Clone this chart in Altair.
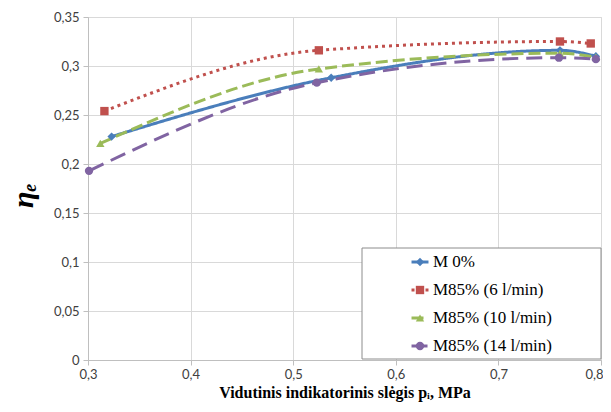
import altair as alt
import pandas as pd

series = ["M 0%", "M85% (6 l/min)", "M85% (10 l/min)", "M85% (14 l/min)"]

p_m0 = [0.323, 0.537, 0.760, 0.795]
eta_m0 = [0.228, 0.288, 0.316, 0.310]

p_m6 = [0.316, 0.525, 0.760, 0.790]
eta_m6 = [0.254, 0.316, 0.325, 0.323]

p_m10 = [0.312, 0.525, 0.760, 0.795]
eta_m10 = [0.221, 0.297, 0.313, 0.309]

p_m14 = [0.301, 0.523, 0.759, 0.795]
eta_m14 = [0.193, 0.283, 0.3085, 0.307]

x_ticks = [0.3, 0.4, 0.5, 0.6, 0.7, 0.8]
y_ticks = [0, 0.05, 0.1, 0.15, 0.2, 0.25, 0.3, 0.35]

colors = ["#4A7EBB", "#C0504D", "#9BBB59", "#8064A2"]
dashes = [[1, 0], [3, 4], [12, 5], [16, 8]]
shapes = ["diamond", "square", "triangle-up", "circle"]

rows = []
for si, (name, xs, ys) in enumerate(zip(series,
                                         [p_m0, p_m6, p_m10, p_m14],
                                         [eta_m0, eta_m6, eta_m10, eta_m14])):
    for x, y in zip(xs, ys):
        rows.append({"series": name, "sidx": si, "p": x, "eta": y})
df = pd.DataFrame(rows)

serif = "Liberation Serif"
sans = "Lato"

x_enc = alt.X(
    "p:Q",
    scale=alt.Scale(domain=[0.3, 0.8], nice=False, zero=False),
    axis=alt.Axis(
        values=x_ticks,
        title="Vidutinis indikatorinis slėgis pᵢ, MPa",
        titleFont=serif, titleFontSize=16, titleFontWeight="bold", titleColor="black",
        titlePadding=3,
        labelExpr="replace(format(datum.value, '.1f'), '.', ',')",
        labelFont=sans, labelFontSize=13, labelColor="#404040", labelPadding=3,
        labelFlush=False, labelOverlap=False,
        labelAlign={"expr": "datum.value > 0.79 ? 'right' : 'center'"},
        labelOffset={"expr": "datum.value > 0.79 ? 2 : 0"},
        tickSize=5, tickColor="#bfbfbf", domainColor="#bfbfbf",
        gridColor="#d9d9d9",
    ),
)
y_enc = alt.Y(
    "eta:Q",
    scale=alt.Scale(domain=[0, 0.35], nice=False),
    axis=alt.Axis(
        values=y_ticks,
        title="ηₑ",
        titleFont=serif, titleFontSize=30, titleFontWeight="bold", titleFontStyle="italic",
        titleColor="black", titleX=-65, titleY=178, titleAlign="center", titleBaseline="middle",
        labelExpr="replace(format(datum.value, '.2~f'), '.', ',')",
        labelFont=sans, labelFontSize=13, labelColor="#404040", labelPadding=4,
        labelFlush=False, labelOverlap=False,
        tickSize=5, tickColor="#bfbfbf", domainColor="#bfbfbf",
        gridColor="#d9d9d9",
    ),
)

common_leg = dict(
    title=None, orient="none", legendX=274, padding=0,
    labelFont=serif, labelFontSize=17, rowPadding=10, labelLimit=400,
)

legA = alt.Legend(
    **common_leg, legendY=235,
    symbolType="stroke", symbolSize=288, symbolStrokeWidth=3,
    symbolOffset=48, labelOffset=3, labelColor="black",
)
legB = alt.Legend(
    **common_leg, legendY=236.5,
    symbolSize=70, symbolOffset=49.5, labelOffset=3,
    labelExpr="''", symbolStrokeWidth=0,
)

frame = alt.Chart(pd.DataFrame({"k": [0]})).mark_rect(
    fill="white", stroke="#8c8c8c", strokeWidth=1
).encode(
    x=alt.value(274), x2=alt.value(513), y=alt.value(231), y2=alt.value(342)
)

lines = alt.Chart(df).mark_line(strokeWidth=3, interpolate="monotone").encode(
    x=x_enc,
    y=y_enc,
    color=alt.Color("series:N", scale=alt.Scale(domain=series, range=colors), legend=legA),
    strokeDash=alt.StrokeDash("series:N", scale=alt.Scale(domain=series, range=dashes), legend=legA),
    detail="series:N",
)

sort_def = alt.EncodingSortField(field="sidx", op="min")
points = alt.Chart(df).mark_point(filled=True, size=70, opacity=1, strokeWidth=0).encode(
    x=x_enc,
    y=y_enc,
    fill=alt.Fill("series:N", sort=sort_def, scale=alt.Scale(range=colors), legend=legB),
    shape=alt.Shape("series:N", sort=sort_def, scale=alt.Scale(range=shapes), legend=legB),
)

chart = alt.layer(frame, lines, points).properties(
    width=513, height=343,
    autosize=alt.AutoSizeParams(type="none"),
    padding={"left": 80, "top": 9, "right": 2, "bottom": 44},
).configure_view(stroke="#d9d9d9").configure(background="white")

chart.save("out.html", embed_options={"renderer": "svg", "actions": False})
